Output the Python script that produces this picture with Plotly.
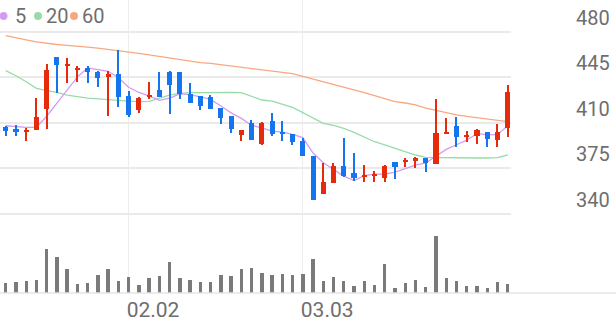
import plotly.graph_objects as go

# ---------------- data ----------------
idx = list(range(50))
tick_pos = [12, 29]
tick_text = ["02.02", "03.03"]
price_ticks = [340, 375, 410, 445, 480]

opens = [406.8, 405.0, 402.7, 404.2, 420.4, 460.1, 454.0, 450.9, 452.2, 448.8,
         445.3, 447.3, 430.4, 419.6, 429.9, 435.0, 448.6, 448.6, 431.9, 430.4,
         429.9, 421.4, 415.0, 400.4, 409.9, 393.2, 411.4, 402.7, 401.4, 395.8,
         384.2, 355.0, 363.7, 376.5, 371.4, 368.3, 369.1, 367.6, 379.6, 379.9,
         381.1, 382.4, 378.1, 401.9, 407.6, 399.1, 399.6, 402.4, 396.5, 405.5]
closes = [403.5, 402.4, 403.5, 414.0, 450.4, 454.0, 455.0, 452.2, 448.6, 444.0,
          447.3, 429.9, 415.5, 428.6, 431.1, 429.9, 438.9, 431.7, 425.3, 422.7,
          420.4, 413.2, 405.3, 404.2, 396.5, 409.9, 401.2, 401.2, 395.3, 384.2,
          350.4, 364.2, 376.5, 368.8, 367.0, 369.3, 370.1, 376.5, 376.0, 381.1,
          382.4, 378.6, 401.7, 402.7, 399.1, 399.9, 404.2, 397.6, 402.4, 433.2]
highs = [407.3, 407.8, 405.5, 428.6, 455.0, 460.1, 459.6, 453.5, 453.5, 449.9,
         449.9, 465.8, 434.2, 429.9, 440.9, 449.1, 449.9, 448.6, 440.1, 430.4,
         431.1, 421.4, 415.0, 404.2, 411.9, 410.6, 417.6, 411.4, 401.4, 397.8,
         384.2, 378.6, 378.6, 397.8, 386.3, 377.3, 373.0, 377.3, 379.6, 382.4,
         383.7, 382.9, 428.1, 413.7, 414.5, 403.5, 405.0, 402.4, 408.8, 438.8]
lows = [399.6, 399.6, 396.0, 404.2, 404.7, 432.9, 440.1, 440.9, 440.1, 437.0,
        415.0, 422.2, 414.0, 417.6, 427.8, 429.9, 416.5, 428.1, 425.3, 419.6,
        420.4, 408.6, 401.7, 395.8, 396.5, 392.7, 399.6, 396.0, 392.7, 384.2,
        350.4, 355.0, 363.2, 368.3, 365.2, 364.5, 364.5, 364.5, 366.2, 375.5,
        374.7, 372.2, 378.1, 401.9, 390.9, 395.0, 393.4, 390.9, 390.9, 399.1]

ma5 = [407.5, 406.8, 406.3, 406.3, 414.8, 424.9, 435.4, 445.1, 452.0, 450.8,
       449.4, 444.4, 437.1, 433.1, 430.5, 427.0, 428.8, 432.0, 431.4, 429.7,
       427.8, 422.7, 417.4, 413.2, 407.9, 405.8, 403.4, 402.6, 400.8, 398.4,
       386.5, 379.1, 374.1, 368.8, 365.4, 369.2, 370.3, 370.3, 371.8, 374.6,
       377.2, 378.9, 384.0, 389.3, 392.9, 396.4, 401.5, 400.7, 400.6, 407.5]
ma20 = [449.9, 446.0, 441.4, 436.3, 434.5, 433.2, 431.1, 429.9, 428.8, 428.1,
        427.8, 427.0, 426.5, 426.0, 426.3, 428.6, 431.1, 432.4, 433.0, 433.0,
        433.2, 433.2, 433.2, 433.0, 429.9, 427.3, 426.5, 424.2, 421.6, 417.6,
        413.2, 409.4, 407.8, 405.5, 402.4, 399.1, 395.2, 392.7, 390.1, 387.6,
        385.0, 383.2, 383.0, 383.0, 382.8, 382.7, 382.7, 382.7, 383.0, 385.0]
ma60 = [476.8, 475.4, 473.6, 472.0, 470.8, 470.0, 469.3, 468.8, 468.0, 467.2,
        466.3, 465.5, 464.5, 463.2, 462.0, 460.8, 459.5, 458.0, 457.0, 456.0,
        455.5, 454.5, 453.5, 452.5, 451.5, 450.6, 450.0, 449.0, 447.6, 445.5,
        443.5, 441.5, 439.5, 437.3, 435.0, 433.0, 430.6, 428.2, 426.0, 425.0,
        423.5, 421.0, 419.1, 417.3, 415.8, 414.7, 413.7, 412.8, 411.9, 410.6]

volume = [97, 113, 123, 127, 443, 363, 237, 93, 100, 180,
          237, 123, 157, 83, 150, 167, 307, 150, 127, 110,
          107, 177, 167, 237, 247, 197, 177, 190, 180, 193,
          343, 117, 160, 123, 70, 123, 80, 287, 47, 97,
          130, 63, 573, 153, 120, 73, 73, 53, 110, 87]

ma_names = ["5", "20", "60"]

# ---------------- style ----------------
RED = "#E62B0C"
BLUE = "#1575EE"
MA_COLORS = ["#D49BF0", "#97DCA8", "#F8A881"]
TXT = "#6E6E6E"
FONT = "Roboto"

W, H = 616, 321
PLOT_R, PLOT_B = 511, 293  # plot area right edge / bottom in px
price_range = [278.85, 504.23]
vol_range = [0, 2930]
x_range = [-0.556, 49.32]

fig = go.Figure()

# volume
fig.add_trace(go.Bar(x=idx, y=volume, width=0.33, marker_color="#7A7A7A",
                     marker_line_width=0, yaxis="y2", hoverinfo="skip"))

# moving averages (behind candles)
for vals, col in zip([ma60, ma20, ma5], [MA_COLORS[2], MA_COLORS[1], MA_COLORS[0]]):
    fig.add_trace(go.Scatter(x=idx, y=vals, mode="lines",
                             line=dict(color=col, width=1.3),
                             yaxis="y", hoverinfo="skip"))

# candles
cols = [RED if c >= o else BLUE for o, c in zip(opens, closes)]
fig.add_trace(go.Bar(x=idx, y=[h - l for h, l in zip(highs, lows)], base=lows,
                     width=0.12, marker_color=cols, marker_line_width=0,
                     yaxis="y3", hoverinfo="skip"))
fig.add_trace(go.Bar(x=idx, y=[max(abs(c - o), 1.0) for o, c in zip(opens, closes)],
                     base=[min(o, c) for o, c in zip(opens, closes)],
                     width=0.5, marker_color=cols, marker_line_width=0,
                     yaxis="y3", hoverinfo="skip"))

fig.update_layout(
    width=W, height=H,
    margin=dict(l=0, r=W - PLOT_R, t=0, b=H - PLOT_B),
    paper_bgcolor="white", plot_bgcolor="white",
    showlegend=False, barmode="overlay", bargap=0,
    font=dict(family=FONT, color=TXT, size=20),
    xaxis=dict(range=x_range, tickvals=tick_pos, ticktext=tick_text,
               showgrid=True, gridcolor="#EDEDED", gridwidth=1,
               zeroline=False, showline=False, ticks="",
               ticklabelposition="outside right",
               ticklabelshift=-2, ticklabelstandoff=2,
               tickfont=dict(size=21, color=TXT, family=FONT)),
    yaxis=dict(range=price_range, side="right", tickvals=price_ticks,
               showgrid=True, gridcolor="#EAEAEA", gridwidth=1.5,
               zeroline=False, showline=False, ticks="",
               ticklabelshift=-14, ticklabelstandoff=64,
               tickfont=dict(size=20, color=TXT, family=FONT)),
    yaxis2=dict(range=vol_range, overlaying="y", visible=False),
    yaxis3=dict(range=price_range, overlaying="y", visible=False),
)

# bottom baseline across the full width
fig.add_shape(type="line", xref="paper", yref="paper", x0=0, x1=W / PLOT_R,
              y0=0, y1=0, line=dict(color="#E6E6E6", width=1.5))

# legend: dots + labels
leg_dot_x = [3.5, 38, 74]
leg_txt_x = [13, 44, 80]
for name, col, dx, tx in zip(ma_names, MA_COLORS, leg_dot_x, leg_txt_x):
    fig.add_shape(type="circle", xref="paper", yref="paper",
                  xsizemode="pixel", ysizemode="pixel",
                  xanchor=dx / PLOT_R, yanchor=1 - 16 / PLOT_B,
                  x0=-4, x1=4, y0=-4, y1=4,
                  fillcolor=col, line=dict(width=0))
    fig.add_annotation(xref="paper", yref="paper", x=tx / PLOT_R, y=1 - 16 / PLOT_B,
                       xanchor="left", yanchor="middle", text=name, showarrow=False,
                       font=dict(size=20, color=TXT, family=FONT))

fig.write_html("out.html")
